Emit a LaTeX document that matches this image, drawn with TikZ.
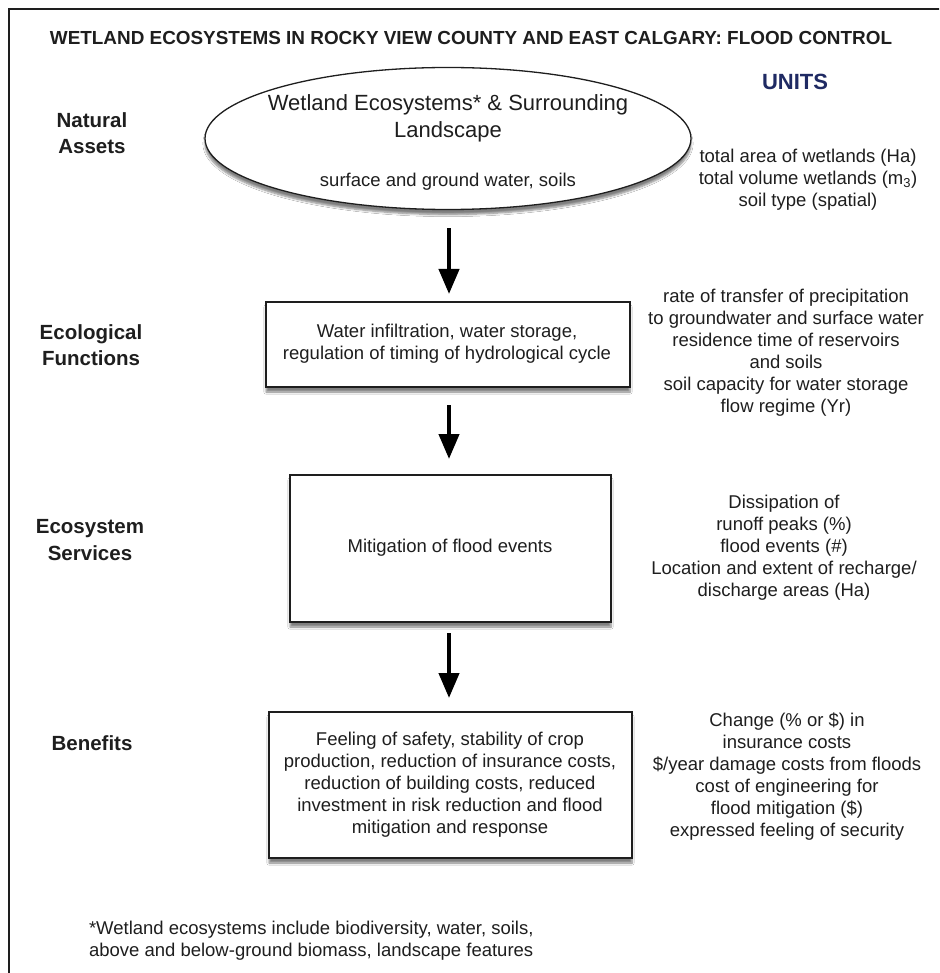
\documentclass[tikz,border=0pt]{standalone}
\usepackage{fontspec}
\setmainfont{Liberation Sans}
\usetikzlibrary{arrows.meta,shadows.blur,shapes.geometric}
\definecolor{ink}{HTML}{1E1E1E}
\definecolor{unitblue}{HTML}{1F2A63}
\begin{document}
\begin{tikzpicture}[x=1pt,y=-1pt,
  every node/.style={inner sep=0pt, outer sep=0pt, text=ink},
  body/.style={font=\fontsize{18.5}{22}\selectfont, align=center},
  rowlabel/.style={font=\fontsize{20.5}{26.5}\selectfont\bfseries, align=center},
  stage/.style={draw=ink, line width=1.3pt, fill=white,
    blur shadow={shadow xshift=0pt, shadow yshift=-5pt, shadow blur steps=6, shadow opacity=50}},
  flow/.style={draw=black, line width=4.2pt, -{Triangle[length=25pt,width=20pt]}}]
\useasboundingbox (0,0) rectangle (939,973);
\clip (0,0) rectangle (939,973);
\fill[white] (0,0) rectangle (939,973);
% outer frame
\draw[line width=1.6pt, draw=ink] (9,9) rectangle (980,1010);

% heading
\node (title) at (471,38) {\fontsize{18.9}{22}\selectfont\bfseries WETLAND ECOSYSTEMS IN ROCKY VIEW COUNTY AND EAST CALGARY: FLOOD CONTROL};
\node[text=unitblue] (units) at (795,82) {\fontsize{22}{26}\selectfont\bfseries UNITS};

% row labels
\node[rowlabel] (lblA) at (92,133) {Natural\\Assets};
\node[rowlabel] (lblB) at (91,345) {Ecological\\Functions};
\node[rowlabel] (lblC) at (90,540) {Ecosystem\\Services};
\node[rowlabel] (lblD) at (92,743) {Benefits};

% stages
\node[stage, ellipse, minimum width=486pt, minimum height=142pt] (ell) at (448,138.5) {};
\node[font=\fontsize{22}{27}\selectfont, align=center] (ellA) at (448,118.5) {Wetland Ecosystems* \& Surrounding\\Landscape};
\node[body] (ellB) at (448,182) {surface and ground water, soils};

\node[stage, minimum width=364pt, minimum height=85pt] (box2) at (448,344.5) {};
\node[body] (box2t) at (447,344) {Water infiltration, water storage,\\regulation of timing of hydrological cycle};

\node[stage, minimum width=321pt, minimum height=147pt] (box3) at (450.5,548.5) {};
\node[body] (box3t) at (450,548) {Mitigation of flood events};

\node[stage, minimum width=363pt, minimum height=146pt] (box4) at (450.5,785) {};
\node[body] (box4t) at (450,785) {Feeling of safety, stability of crop\\production, reduction of insurance costs,\\reduction of building costs, reduced\\investment in risk reduction and flood\\mitigation and response};

% arrows between stages (kept vertical)
\coordinate (a1) at ([xshift=1pt]ell.south);
\draw[flow, shorten <=19pt, shorten >=8pt] (a1) -- (a1 |- box2.north);
\coordinate (a2) at ([xshift=1pt]box2.south);
\draw[flow, shorten <=18pt, shorten >=16pt] (a2) -- (a2 |- box3.north);
\coordinate (a3) at ([xshift=-1.5pt]box3.south);
\draw[flow, shorten <=11pt, shorten >=14pt] (a3) -- (a3 |- box4.north);

% units column
\node[body] (u1) at (808,180) {total area of wetlands (Ha)\\total volume wetlands (m\textsubscript{3})\\soil type (spatial)};
\node[body] (u2) at (786,352.5) {rate of transfer of precipitation\\to groundwater and surface water\\residence time of reservoirs\\and soils\\soil capacity for water storage\\flow regime (Yr)};
\node[body] (u3) at (784,547.5) {Dissipation of\\runoff peaks (\%)\\flood events (\#)\\Location and extent of recharge/\\discharge areas (Ha)};
\node[body] (u4) at (787,777) {Change (\% or \$) in\\insurance costs\\\$/year damage costs from floods\\cost of engineering for\\flood mitigation (\$)\\expressed feeling of security};

% footnote
\node[body, align=left, anchor=west] (note) at (89,941) {*Wetland ecosystems include biodiversity, water, soils,\\above and below-ground biomass, landscape features};
\end{tikzpicture}
\end{document}
